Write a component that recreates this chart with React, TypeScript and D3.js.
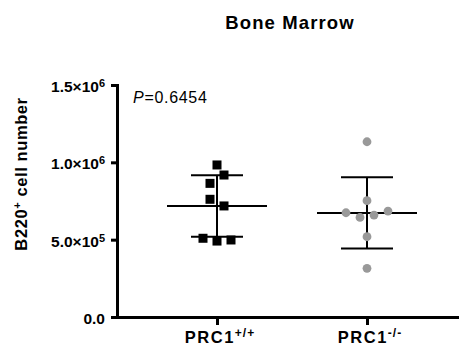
import { useRef, useEffect } from 'react';
import * as d3 from 'd3';

const title = 'Bone Marrow';
const groups = ['PRC1+/+', 'PRC1-/-'];
const groupBase = ['PRC1', 'PRC1'];
const groupSup = ['+/+', '-/-'];
const wildType = [983000, 864000, 918000, 761000, 718000, 509000, 491000, 498000];
const knockout = [1133000, 752000, 674000, 644000, 659000, 685000, 519000, 315000];
const yTicks = [0, 500000, 1000000, 1500000];
const yTickBase = ['0.0', '5.0×10', '1.0×10', '1.5×10'];
const yTickExp = ['', '5', '6', '6'];
const pValue = '0.6454';

// groups points into rows of similar height and spreads each row around the centre
function swarm(values: number[], y: (v: number) => number, gap: number, step: number) {
    const order = values.map((_, i) => i).sort((a, b) => values[b] - values[a]);
    const rows: number[][] = [];
    let start = -Infinity;
    order.forEach(i => {
        if (rows.length && Math.abs(y(values[i]) - start) <= gap) {
            rows[rows.length - 1].push(i);
        } else {
            rows.push([i]);
            start = y(values[i]);
        }
    });
    const offsets = values.map(() => 0);
    rows.forEach(row => {
        row.sort((a, b) => a - b);
        row.forEach((i, k) => { offsets[i] = (k - (row.length - 1) / 2) * step; });
    });
    return offsets;
}

function DotPlot() {
    const ref = useRef<SVGSVGElement>(null);

    useEffect(() => {
        const svg = d3.select(ref.current);
        svg.selectAll('*').remove();

        const font = 'Liberation Sans, Arial, Helvetica, sans-serif';
        const left = 117, right = 467, top = 85, bottom = 317;

        const x = d3.scalePoint<string>().domain(groups).range([left, right]).padding(2 / 3);
        const y = d3.scaleLinear().domain([0, 1500000]).range([bottom, top]);

        svg.append('text')
            .attr('x', 290).attr('y', 29)
            .attr('text-anchor', 'middle')
            .attr('font-family', font).attr('font-size', 18.5).attr('font-weight', 'bold')
            .attr('letter-spacing', 1.1)
            .text(title);

        // y axis
        const yAxis = svg.append('g')
            .attr('transform', `translate(${left},0)`)
            .call(d3.axisLeft(y).tickValues(yTicks).tickSize(6).tickSizeOuter(0).tickFormat(() => ''));
        yAxis.select('.domain').attr('stroke-width', 3).attr('stroke-linecap', 'square');
        yAxis.selectAll('.tick line').attr('stroke-width', 3);

        yTicks.forEach((t, i) => {
            const label = svg.append('text')
                .attr('x', left - 12).attr('y', y(t) + 7)
                .attr('text-anchor', 'end')
                .attr('font-family', font).attr('font-size', 15.5).attr('font-weight', 'bold');
            label.append('tspan').text(yTickBase[i]);
            if (yTickExp[i]) {
                label.append('tspan').attr('font-size', 11).attr('dy', -5).text(yTickExp[i]);
            }
        });

        const yLabel = svg.append('text')
            .attr('transform', 'translate(27,174) rotate(-90)')
            .attr('text-anchor', 'middle')
            .attr('font-family', font).attr('font-size', 16.5).attr('font-weight', 'bold')
            .attr('letter-spacing', 0.6);
        yLabel.append('tspan').text('B220');
        yLabel.append('tspan').attr('font-size', 11).attr('dy', -6).text('+');
        yLabel.append('tspan').attr('dy', 6).text(' cell number');

        // x axis
        const xAxis = svg.append('g')
            .attr('transform', `translate(0,${bottom})`)
            .call(d3.axisBottom(x).tickSize(8).tickSizeOuter(0).tickFormat(() => ''));
        xAxis.select('.domain').attr('stroke-width', 3).attr('stroke-linecap', 'square');
        xAxis.selectAll('.tick line').attr('stroke-width', 3);

        groups.forEach((g, i) => {
            const label = svg.append('text')
                .attr('x', (x(g) as number) + 3).attr('y', 343)
                .attr('text-anchor', 'middle')
                .attr('font-family', font).attr('font-size', 16.5).attr('font-weight', 'bold')
                .attr('letter-spacing', 1.5);
            label.append('tspan').text(groupBase[i]);
            label.append('tspan').attr('font-size', 12).attr('dy', -6).attr('letter-spacing', 1).text(groupSup[i]);
        });

        // p value
        const p = svg.append('text')
            .attr('x', 133).attr('y', 103)
            .attr('font-family', font).attr('font-size', 16)
            .attr('letter-spacing', 0.7);
        p.append('tspan').attr('font-style', 'italic').text('P');
        p.append('tspan').text('=' + pValue);

        // mean and SD bars, then points
        const sets = [wildType, knockout];
        sets.forEach((vals, gi) => {
            const cx = x(groups[gi]) as number;
            const m = d3.mean(vals) as number;
            const s = d3.deviation(vals) as number;
            const bars = svg.append('g').attr('stroke', '#000').attr('stroke-width', 2);
            bars.append('line').attr('x1', cx - 50).attr('x2', cx + 50).attr('y1', y(m)).attr('y2', y(m));
            bars.append('line').attr('x1', cx).attr('x2', cx).attr('y1', y(m - s)).attr('y2', y(m + s));
            [m - s, m + s].forEach(v => {
                bars.append('line').attr('x1', cx - 26).attr('x2', cx + 26).attr('y1', y(v)).attr('y2', y(v));
            });

            const offs = swarm(vals, y, 9.2, 14);
            if (gi === 0) {
                svg.append('g').selectAll('rect')
                    .data(vals)
                    .enter().append('rect')
                    .attr('x', (d, i) => cx + offs[i] - 4.5)
                    .attr('y', d => y(d) - 4.5)
                    .attr('width', 9).attr('height', 9)
                    .attr('fill', '#000');
            } else {
                svg.append('g').selectAll('circle')
                    .data(vals)
                    .enter().append('circle')
                    .attr('cx', (d, i) => cx + offs[i])
                    .attr('cy', d => y(d))
                    .attr('r', 4.4)
                    .attr('fill', '#999999');
            }
        });
    }, []);

    return <svg ref={ref} width={459} height={345} style={{ position: 'absolute', left: 0, top: 0 }} />;
}

export default function App() {
    return <DotPlot />;
}
